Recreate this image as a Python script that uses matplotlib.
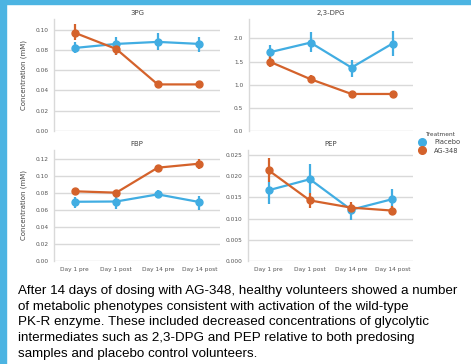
import matplotlib
matplotlib.use("Agg")
import matplotlib.pyplot as plt
from matplotlib.patches import Rectangle
from matplotlib.lines import Line2D

# Sampling timepoints
timepoints = ["Day 1 pre", "Day 1 post", "Day 14 pre", "Day 14 post"]
treatments = ["Placebo", "AG-348"]

# 3PG (mM): means and CI bounds
pg3_placebo = [0.082, 0.086, 0.088, 0.086]
pg3_placebo_lo = [0.0767, 0.0750, 0.0800, 0.0780]
pg3_placebo_hi = [0.0875, 0.0925, 0.0964, 0.0925]
pg3_ag = [0.097, 0.081, 0.046, 0.046]
pg3_ag_lo = [0.0895, 0.0747, 0.0450, 0.0450]
pg3_ag_hi = [0.1056, 0.0880, 0.0472, 0.0470]

# 2,3-DPG (mM)
dpg_placebo = [1.70, 1.91, 1.37, 1.89]
dpg_placebo_lo = [1.55, 1.70, 1.17, 1.63]
dpg_placebo_hi = [1.86, 2.13, 1.53, 2.17]
dpg_ag = [1.50, 1.12, 0.80, 0.80]
dpg_ag_lo = [1.38, 1.03, 0.77, 0.77]
dpg_ag_hi = [1.64, 1.21, 0.83, 0.83]

# FBP (mM)
fbp_placebo = [0.0697, 0.0700, 0.0784, 0.0694]
fbp_placebo_lo = [0.0627, 0.0615, 0.0737, 0.0600]
fbp_placebo_hi = [0.0756, 0.0756, 0.0835, 0.0768]
fbp_ag = [0.0820, 0.0804, 0.1098, 0.1145]
fbp_ag_lo = [0.0800, 0.0780, 0.1068, 0.1080]
fbp_ag_hi = [0.0840, 0.0830, 0.1128, 0.1196]

# PEP (mM)
pep_placebo = [0.0167, 0.0193, 0.0121, 0.0146]
pep_placebo_lo = [0.0134, 0.0160, 0.0096, 0.0121]
pep_placebo_hi = [0.0187, 0.0228, 0.0135, 0.0170]
pep_ag = [0.0214, 0.0143, 0.0126, 0.0119]
pep_ag_lo = [0.0187, 0.0125, 0.0115, 0.0109]
pep_ag_hi = [0.0244, 0.0161, 0.0140, 0.0131]

caption = ("After 14 days of dosing with AG-348, healthy volunteers showed a number\n"
           "of metabolic phenotypes consistent with activation of the wild-type\n"
           "PK-R enzyme. These included decreased concentrations of glycolytic\n"
           "intermediates such as 2,3-DPG and PEP relative to both predosing\n"
           "samples and placebo control volunteers.")

BLUE = "#41ade2"
ORANGE = "#d4622b"
BORDER = "#4cb4e2"
GRID = "#d9d9d9"
TICK = "#555555"

W, H = 471, 364
fig = plt.figure(figsize=(W / 100, H / 100), dpi=100)
fig.patch.set_facecolor("white")

# frame accents along the top and left edges
fig.add_artist(Rectangle((0, 1 - 4 / H), 1, 4 / H, transform=fig.transFigure,
                         color=BORDER, zorder=0))
fig.add_artist(Rectangle((0, 0), 6 / W, 1, transform=fig.transFigure,
                         color=BORDER, zorder=0))


def px_axes(x0, y0, x1, y1):
    return fig.add_axes([x0 / W, 1 - y1 / H, (x1 - x0) / W, (y1 - y0) / H])


panels = [
    dict(box=(54, 19, 220, 131), title="3PG", ylim=0.1106,
         ticks=[0, 0.02, 0.04, 0.06, 0.08, 0.10], fmt="{:.2f}",
         data=[(pg3_placebo, pg3_placebo_lo, pg3_placebo_hi),
               (pg3_ag, pg3_ag_lo, pg3_ag_hi)],
         ylabel=True, xlabels=False),
    dict(box=(249, 19, 413, 131), title="2,3-DPG", ylim=2.42,
         ticks=[0, 0.5, 1.0, 1.5, 2.0], fmt="{:.1f}",
         data=[(dpg_placebo, dpg_placebo_lo, dpg_placebo_hi),
               (dpg_ag, dpg_ag_lo, dpg_ag_hi)],
         ylabel=False, xlabels=False),
    dict(box=(54, 150, 220, 261), title="FBP", ylim=0.1306,
         ticks=[0, 0.02, 0.04, 0.06, 0.08, 0.10, 0.12], fmt="{:.2f}",
         data=[(fbp_placebo, fbp_placebo_lo, fbp_placebo_hi),
               (fbp_ag, fbp_ag_lo, fbp_ag_hi)],
         ylabel=True, xlabels=True),
    dict(box=(248, 150, 413, 261), title="PEP", ylim=0.0262,
         ticks=[0, 0.005, 0.010, 0.015, 0.020, 0.025], fmt="{:.3f}",
         data=[(pep_placebo, pep_placebo_lo, pep_placebo_hi),
               (pep_ag, pep_ag_lo, pep_ag_hi)],
         ylabel=False, xlabels=True),
]

x = list(range(len(timepoints)))
for p in panels:
    ax = px_axes(*p["box"])
    ax.set_xlim(-0.5, 3.5)
    ax.set_ylim(0, p["ylim"])
    ax.set_yticks(p["ticks"])
    ax.set_yticklabels([p["fmt"].format(t) for t in p["ticks"]])
    ax.grid(axis="y", color=GRID, linewidth=1.0)
    ax.set_axisbelow(True)
    for s in ("top", "right", "bottom"):
        ax.spines[s].set_visible(False)
    ax.spines["left"].set_color(GRID)
    ax.spines["left"].set_linewidth(1.0)
    ax.tick_params(axis="both", length=0, labelsize=4.2, colors=TICK, pad=4)
    ax.set_xticks(x)
    if p["xlabels"]:
        ax.set_xticklabels(timepoints)
    else:
        ax.set_xticklabels([])
    ax.set_title(p["title"], fontsize=5, color="#444444", pad=3)
    if p["ylabel"]:
        ax.set_ylabel("Concentration (mM)", fontsize=5, color="#444444", labelpad=6)
    for (mean, lo, hi), color in zip(p["data"], [BLUE, ORANGE]):
        yerr = [[m - l for m, l in zip(mean, lo)], [h - m for m, h in zip(mean, hi)]]
        ax.errorbar(x, mean, yerr=yerr, color=color, linewidth=1.6,
                    elinewidth=1.6, capsize=0, marker="o", markersize=5,
                    zorder=3)

# legend
handles = [Line2D([], [], linestyle="none", marker="o", markersize=5.5, color=c)
           for c in (BLUE, ORANGE)]
leg = fig.legend(handles, treatments, title="Treatment",
                 loc="upper left", bbox_to_anchor=(413 / W, 1 - 126 / H),
                 frameon=False, fontsize=4.8, title_fontsize=4.2,
                 handletextpad=1.3, labelspacing=0.35, handlelength=1.0)
leg.get_title().set_color("#444444")
for t in leg.get_texts():
    t.set_color("#444444")

fig.text(18 / W, 1 - 285 / H, caption, ha="left", va="top",
         fontsize=9.6, family="Liberation Sans", color="black",
         linespacing=1.41)

fig.savefig("out.png", dpi=100)
